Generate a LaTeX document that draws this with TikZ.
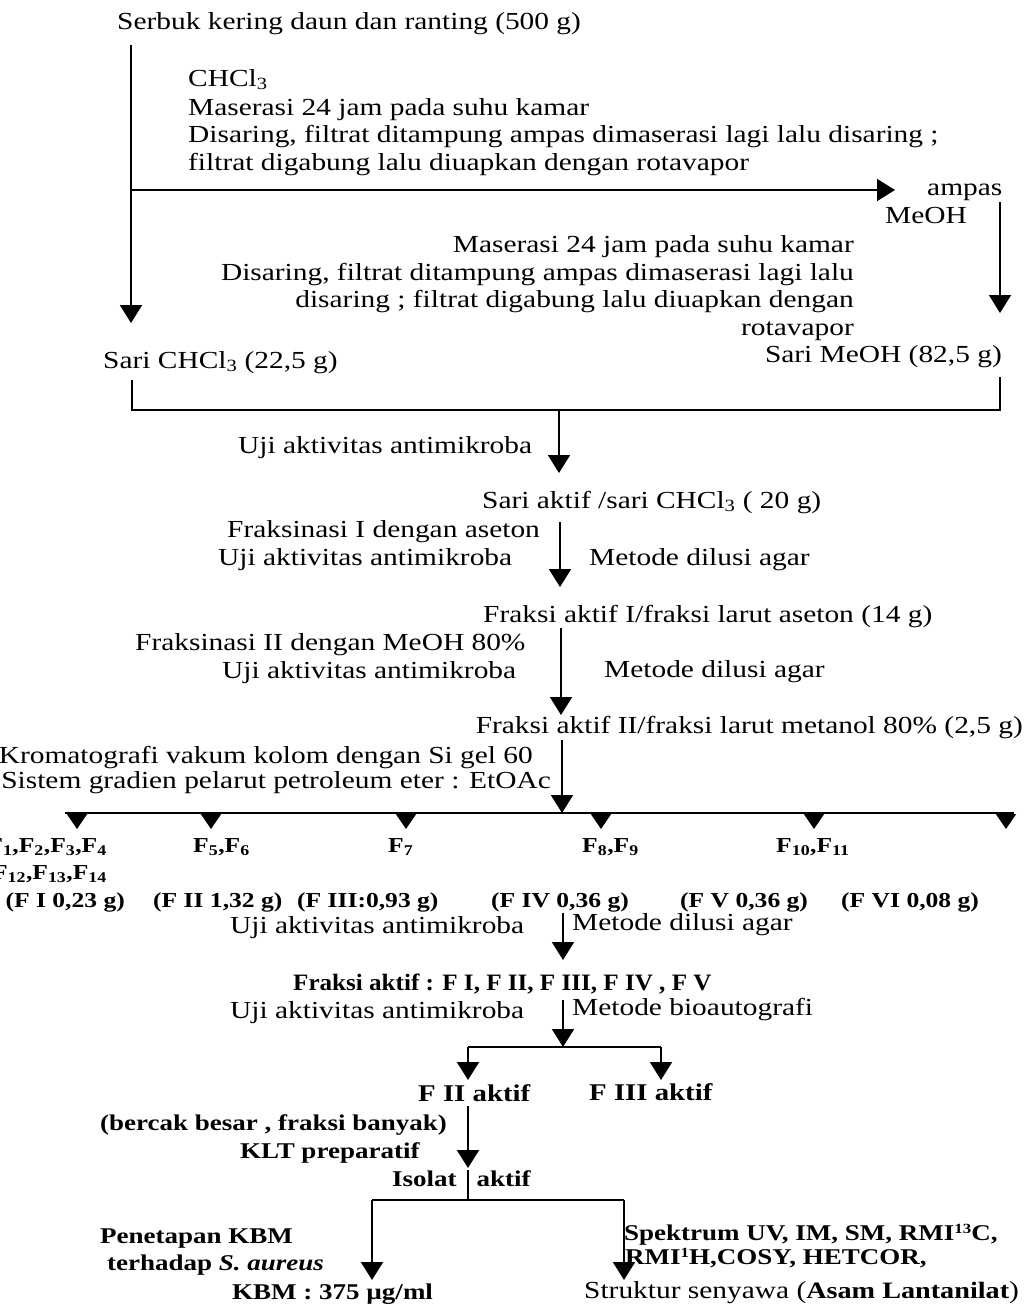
\documentclass[tikz,border=0pt]{standalone}
\usepackage{fontspec}
\usepackage{graphicx}
\setmainfont{Liberation Serif}[FakeStretch=1.2]
\usetikzlibrary{arrows.meta}
\newcommand\sbs[1]{\textsubscript{#1}}
\newcommand\sps[1]{\raisebox{0.28em}{\fontsize{14}{14}\selectfont #1}}
\begin{document}
\begin{tikzpicture}[x=1pt,y=-1pt,
  txt/.style={inner sep=0pt, font=\fontsize{24.5}{29}\selectfont},
  lw/.style={txt, anchor=base west},
  le/.style={txt, anchor=base east},
  bld/.style={font=\bfseries\fontsize{24}{29}\selectfont},
  bldm/.style={font=\bfseries\fontsize{22.5}{27}\selectfont},
  sml/.style={font=\bfseries\fontsize{21.3}{25}\selectfont},
  ln/.style={line width=1.8pt},
  arr/.style={ln, -{Triangle[width=22pt,length=18pt]}},
  tick/.style={ln, -{Triangle[width=20pt,length=15pt]}}]
\useasboundingbox (0,0) rectangle (1027,1306);
\clip (0,0) rectangle (1027,1306);
\fill[white] (0,0) rectangle (1027,1306);

% ---- texts ----
\node[lw] (title) at (117,30) {Serbuk kering daun dan ranting (500 g)};
\node[lw] (c1l1) at (188,86) {CHCl\sbs{3}};
\node[lw] (c1l2) at (188,115) {Maserasi 24 jam pada suhu kamar};
\node[lw] (c1l3) at (188,142) {Disaring, filtrat ditampung ampas dimaserasi lagi lalu disaring ;};
\node[lw] (c1l4) at (188,170) {filtrat digabung lalu diuapkan dengan rotavapor};
\node[lw] (ampas) at (927,195) {ampas};
\node[lw] (meoh) at (885,223) {MeOH};
\node[le] (m1l1) at (854,252) {Maserasi 24 jam pada suhu kamar};
\node[le] (m1l2) at (854,280) {Disaring, filtrat ditampung ampas dimaserasi lagi lalu};
\node[le] (m1l3) at (854,307) {disaring ; filtrat digabung lalu diuapkan dengan};
\node[le] (m1l4) at (854,335) {rotavapor};
\node[lw] (sari1) at (103,368) {Sari CHCl\sbs{3} (22,5 g)};
\node[le] (sari2) at (1002,362) {Sari MeOH (82,5 g)};

\node[lw] (uji1) at (238,453) {Uji aktivitas antimikroba};
\node[lw] (aktif1) at (482,508) {Sari aktif /sari CHCl\sbs{3} ( 20 g)};
\node[lw] (fr1) at (227,537) {Fraksinasi I dengan aseton};
\node[lw] (uji2) at (218,565) {Uji aktivitas antimikroba};
\node[lw] (met1) at (589,565) {Metode dilusi agar};
\node[lw] (aktif2) at (483,622) {Fraksi aktif I/fraksi larut aseton (14 g)};
\node[lw] (fr2) at (135,650) {Fraksinasi II dengan MeOH 80\%};
\node[lw] (uji3) at (222,678) {Uji aktivitas antimikroba};
\node[lw] (met2) at (604,677) {Metode dilusi agar};
\node[le] (aktif3) at (1023,733) {Fraksi aktif II/fraksi larut metanol 80\% (2,5 g)};
\node[le] (krom1) at (533,763) {Kromatografi vakum kolom dengan Si gel 60};
\node[le] (krom2) at (551,788) {Sistem gradien pelarut petroleum eter : EtOAc};

\node[le,sml] (fa) at (107,852) {F\sbs{1},F\sbs{2},F\sbs{3},F\sbs{4}};
\node[le,sml] (fa2) at (107,879) {F\sbs{12},F\sbs{13},F\sbs{14}};
\node[lw,sml] (fb) at (193,852) {F\sbs{5},F\sbs{6}};
\node[lw,sml] (fc) at (388,852) {F\sbs{7}};
\node[lw,sml] (fd) at (582,852) {F\sbs{8},F\sbs{9}};
\node[lw,sml] (fe) at (776,852) {F\sbs{10},F\sbs{11}};
\node[le,sml] (ga) at (125,907) {(F I 0,23 g)};
\node[lw,sml] (gb) at (153,907) {(F II 1,32 g)};
\node[lw,sml] (gc) at (297,907) {(F III:0,93 g)};
\node[le,sml] (gd) at (629,907) {(F IV 0,36 g)};
\node[lw,sml] (ge) at (680,907) {(F V 0,36 g)};
\node[lw,sml] (gf) at (841,907) {(F VI 0,08 g)};

\node[lw] (uji4) at (230,933) {Uji aktivitas antimikroba};
\node[lw] (met3) at (572,930) {Metode dilusi agar};
\node[lw] (aktif4) at (293,990) {\scalebox{0.89}[1]{\bfseries\fontsize{23.5}{28}\selectfont Fraksi aktif : F I, F II, F III, F IV , F V}};
\node[lw] (uji5) at (230,1018) {Uji aktivitas antimikroba};
\node[lw] (met4) at (572,1015) {Metode bioautografi};
\node[lw,bld] (f2a) at (418,1101) {F II aktif};
\node[lw,bld] (f3a) at (589,1100) {F III aktif};
\node[lw,bldm] (berc) at (100,1130) {(bercak besar , fraksi banyak)};
\node[lw,bldm] (klt) at (240,1158) {KLT preparatif};
\node[lw,bldm] (iso) at (392,1186) {Isolat\hspace{20pt}aktif};
\node[lw,bldm] (pen1) at (100,1243) {Penetapan KBM};
\node[lw,bldm] (pen2) at (107,1270) {terhadap \textit{S. aureus}};
\node[lw,bldm] (kbm) at (232,1299) {KBM : 375 µg/ml};
\node[lw,bldm] (sp1) at (624,1240) {Spektrum UV, IM, SM, RMI\sps{13}C,};
\node[lw,bldm] (sp2) at (625,1264) {RMI\sps{1}H,COSY, HETCOR,};
\node[lw] (str) at (584,1298) {Struktur senyawa (\textbf{\fontsize{23.5}{27}\selectfont Asam Lantanilat})};

% ---- connectors ----
\coordinate (s0) at (131,45);   \coordinate (s1) at (131,323);
\draw[arr] (s0) -- (s1);
\coordinate (h0) at (131,190);  \coordinate (h1) at (895,190);
\draw[arr] (h0) -- (h1);
\coordinate (r0) at (1000,202); \coordinate (r1) at (1000,313);
\draw[arr] (r0) -- (r1);
\coordinate (j1) at (132,380); \coordinate (j2) at (132,410);
\coordinate (j3) at (1000,410); \coordinate (j4) at (1000,377);
\draw[ln] (j1) -- (j2) -- (j3) -- (j4);
\coordinate (c0) at (559,410); \coordinate (c1) at (559,473);
\draw[arr] (c0) -- (c1);
\coordinate (c2) at (560,522); \coordinate (c3) at (560,587);
\draw[arr] (c2) -- (c3);
\coordinate (c4) at (561,628); \coordinate (c5) at (561,715);
\draw[arr] (c4) -- (c5);
\coordinate (c6) at (562,740); \coordinate (c7) at (562,813);
\draw[arr] (c6) -- (c7);
\coordinate (fl) at (65,813); \coordinate (fr) at (1014,813);
\draw[ln] (fl) -- (fr);
\foreach \x/\n in {77/1,211/2,406/3,601/4,814/5,1006/6}{
  \coordinate (t\n a) at (\x,812); \coordinate (t\n b) at (\x,829);
  \draw[tick] (t\n a) -- (t\n b);
}
\coordinate (c8) at (563,913); \coordinate (c9) at (563,960);
\draw[arr] (c8) -- (c9);
\coordinate (c10) at (563,1000); \coordinate (c11) at (563,1047);
\draw[arr] (c10) -- (c11);
\coordinate (q1) at (468,1047); \coordinate (q2) at (661,1047);
\coordinate (q3) at (468,1080); \coordinate (q4) at (661,1080);
\draw[ln] (q1) -- (q2);
\draw[arr] (q1) -- (q3);
\draw[arr] (q2) -- (q4);
\coordinate (c12) at (468,1106); \coordinate (c13) at (468,1168);
\draw[arr] (c12) -- (c13);
\coordinate (c14) at (468,1170); \coordinate (c15) at (468,1200);
\draw[ln] (c14) -- (c15);
\coordinate (b1) at (372,1200); \coordinate (b2) at (624,1200);
\coordinate (b3) at (372,1280); \coordinate (b4) at (624,1280);
\draw[ln] (b1) -- (b2);
\draw[arr] (b1) -- (b3);
\draw[arr] (b2) -- (b4);
\end{tikzpicture}
\end{document}
